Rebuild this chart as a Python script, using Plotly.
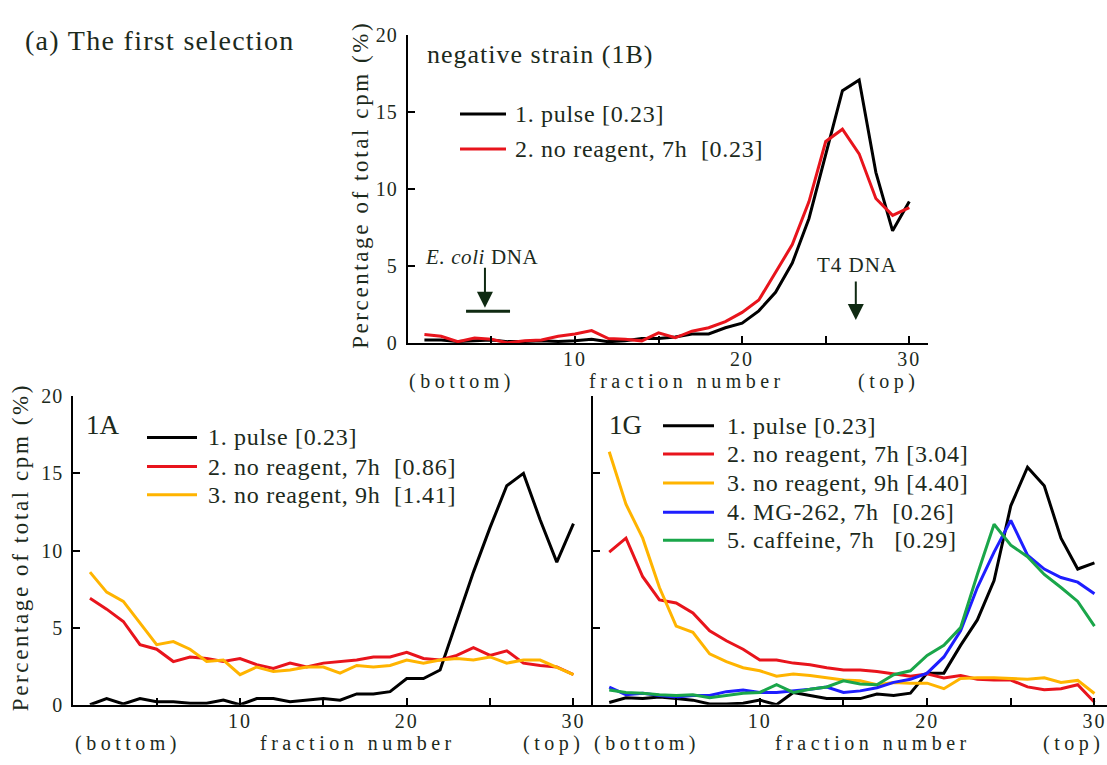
import plotly.graph_objects as go

W, H = 1107, 765
TXT = "#1c2a1c"
ARROW = "#0f2a12"
FONT = "Liberation Serif"

fractions = list(range(1, 31))

# --- negative strain (1B) ---
neg_pulse = [0.2, 0.2, 0.1, 0.15, 0.2, 0.1, 0.1, 0.15, 0.1, 0.15, 0.25, 0.1, 0.15, 0.3, 0.3,
             0.4, 0.6, 0.6, 1.0, 1.3, 2.1, 3.3, 5.2, 8.1, 12.3, 16.4, 17.1, 11.1, 7.3, 9.2]
neg_noreag7 = [0.57, 0.45, 0.1, 0.33, 0.25, 0.02, 0.15, 0.2, 0.45, 0.6, 0.82, 0.3, 0.25, 0.15, 0.67,
               0.35, 0.78, 1.0, 1.4, 2.0, 2.8, 4.6, 6.4, 9.2, 13.1, 13.9, 12.3, 9.4, 8.3, 8.8]
# --- 1A ---
a_pulse = [0.0, 0.4, 0.05, 0.4, 0.2, 0.2, 0.1, 0.1, 0.3, 0.0, 0.4, 0.4, 0.2, 0.3, 0.4,
           0.3, 0.7, 0.7, 0.85, 1.7, 1.7, 2.25, 5.5, 8.6, 11.5, 14.2, 15.0, 12.0, 9.25, 11.75]
a_noreag7 = [6.9, 6.2, 5.4, 3.9, 3.6, 2.8, 3.1, 3.0, 2.8, 3.0, 2.6, 2.35, 2.7, 2.45, 2.7,
             2.8, 2.9, 3.1, 3.1, 3.4, 3.0, 2.9, 3.2, 3.7, 3.2, 3.5, 2.7, 2.55, 2.45, 1.95]
a_noreag9 = [8.6, 7.3, 6.7, 5.3, 3.9, 4.1, 3.6, 2.8, 2.9, 1.95, 2.45, 2.15, 2.25, 2.45, 2.45,
             2.05, 2.55, 2.45, 2.55, 2.9, 2.7, 2.9, 3.0, 2.9, 3.1, 2.7, 2.9, 2.9, 2.45, 1.95]
# --- 1G ---
g_pulse = [0.15, 0.45, 0.4, 0.5, 0.4, 0.3, 0.05, 0.05, 0.1, 0.3, 0.0, 0.8, 0.6, 0.4, 0.4,
           0.4, 0.7, 0.6, 0.75, 2.05, 2.05, 3.85, 5.5, 8.05, 12.9, 15.4, 14.2, 10.8, 8.8, 9.2]
g_noreag7 = [9.9, 10.8, 8.3, 6.8, 6.6, 5.95, 4.8, 4.15, 3.6, 2.9, 2.9, 2.7, 2.6, 2.4, 2.25,
             2.25, 2.15, 2.0, 1.85, 2.0, 1.74, 1.9, 1.65, 1.6, 1.6, 1.16, 0.97, 1.04, 1.3, 0.16]
g_noreag9 = [16.4, 13.0, 10.8, 7.6, 5.1, 4.7, 3.3, 2.8, 2.4, 2.2, 1.85, 2.0, 1.9, 1.75, 1.6,
             1.55, 1.3, 1.45, 1.4, 1.4, 1.04, 1.7, 1.75, 1.75, 1.7, 1.65, 1.75, 1.45, 1.58, 0.73]
g_mg262 = [1.15, 0.65, 0.75, 0.6, 0.5, 0.6, 0.6, 0.85, 0.95, 0.8, 0.8, 0.9, 1.0, 1.15, 0.8,
           0.9, 1.1, 1.45, 1.65, 2.05, 3.1, 4.8, 7.6, 9.9, 11.95, 9.7, 8.8, 8.25, 7.95, 7.2]
g_caffeine = [0.95, 0.8, 0.75, 0.65, 0.6, 0.65, 0.45, 0.6, 0.75, 0.8, 1.3, 0.8, 1.0, 1.15, 1.55,
              1.35, 1.3, 1.95, 2.2, 3.2, 3.85, 5.0, 8.45, 11.7, 10.35, 9.6, 8.45, 7.6, 6.7, 5.1]

neg_labels = ["1. pulse [0.23]", "2. no reagent, 7h\u00a0\u00a0[0.23]"]
a_labels = ["1. pulse [0.23]", "2. no reagent, 7h\u00a0\u00a0[0.86]", "3. no reagent, 9h\u00a0\u00a0[1.41]"]
g_labels = ["1. pulse [0.23]", "2. no reagent, 7h [3.04]", "3. no reagent, 9h [4.40]",
            "4. MG-262, 7h\u00a0\u00a0[0.26]", "5. caffeine, 7h\u00a0\u00a0\u00a0[0.29]"]

BLACK, RED, YEL, BLUE, GREEN = "#000000", "#e8141c", "#ffb400", "#1e1eff", "#1aa64a"

x_tickvals = [5, 10, 15, 20, 25, 30]
x_ticktext = ["", "10", "", "20", "", "30"]
y_tickvals = [0, 5, 10, 15, 20]
y_ticktext = ["0", "5", "10", "15", "20"]

def sp(t, ls):
    if not t:
        return t
    return f'<span style="font-family:{FONT};letter-spacing:{ls}px">{t}</span>'

def px(x):
    return x / W

def py(y):
    return 1 - y / H

fig = go.Figure()

def add_lines(series, colors, xa, ya):
    for s, c in zip(series, colors):
        fig.add_trace(go.Scatter(x=fractions, y=s, mode="lines", xaxis=xa, yaxis=ya,
                                 line=dict(color=c, width=3), showlegend=False,
                                 hoverinfo="skip"))

add_lines([neg_pulse, neg_noreag7], [BLACK, RED], "x", "y")
add_lines([a_pulse, a_noreag7, a_noreag9], [BLACK, RED, YEL], "x2", "y2")
add_lines([g_pulse, g_noreag7, g_noreag9, g_mg262, g_caffeine],
          [BLACK, RED, YEL, BLUE, GREEN], "x3", "y3")

axcommon = dict(showline=True, linecolor="black", linewidth=2, ticks="inside", ticklen=7,
                tickwidth=2, tickcolor="black", showgrid=False, zeroline=False,
                tickfont=dict(family=FONT, size=20, color=TXT), fixedrange=True)

def xax(domain, rng, anchor):
    return dict(axcommon, domain=domain, range=rng, anchor=anchor, tickmode="array",
                tickvals=x_tickvals, ticktext=[sp(t, 2) for t in x_ticktext],
                ticklabelstandoff=-3)

def yax(domain, anchor, labels=True):
    return dict(axcommon, domain=domain, range=[0, 20], anchor=anchor, tickmode="array",
                tickvals=y_tickvals, ticktext=[sp(t, 1) for t in y_ticktext],
                showticklabels=labels, ticklabelstandoff=4)

fig.update_layout(
    width=W, height=H, margin=dict(l=0, r=0, t=0, b=0),
    paper_bgcolor="white", plot_bgcolor="white",
    font=dict(family=FONT, color=TXT),
    xaxis=xax([px(407.7), px(927.7)], [0, 31.1], "y"),
    yaxis=yax([py(342), py(25)], "x"),
    xaxis2=xax([px(73.3), px(591.8)], [0, 31.1], "y2"),
    yaxis2=yax([py(714.3), py(396.7)], "x2"),
    xaxis3=xax([px(592.5), 1.0], [0, 30.75], "y3"),
    yaxis3=yax([py(714.3), py(396.7)], "x3", labels=False),
)

anns = []
shapes = []

def text(t, x, y, size, xanchor="center", angle=0, ls=0):
    anns.append(dict(text=sp(t, ls), x=px(x), y=py(y), xref="paper", yref="paper",
                     xanchor=xanchor, yanchor="middle", showarrow=False, textangle=angle,
                     borderpad=0, font=dict(family=FONT, size=size, color=TXT)))

text("(a) The first selection", 160, 30, 28, ls=1.3)
text("negative strain (1B)", 540, 45, 26, ls=1.0)
text("1A", 103, 426, 27)
text("1G", 625, 426, 27)

ytitle = "Percentage of total cpm (%)"
text(ytitle, 361, 179, 23, angle=-90, ls=2.6)
text(ytitle, 20, 552, 23, angle=-90, ls=2.6)

for cx, cy, (b, f, t) in [((462, 687, 888), 381, ("(bottom)", "fraction number", "(top)")),
                          ((128, 358, 553), 754, ("(bottom)", "fraction number", "(top)")),
                          ((647, 873, 1073), 754, ("(bottom)", "fraction number", "(top)"))]:
    text(b, cx[0], cy, 20, ls=4.5)
    text(f, cx[1], cy, 20, ls=4.5)
    text(t, cx[2], cy, 20, ls=4.5)

def legend(labels, colors, x0, x1, xt, ys):
    for lab, c, y in zip(labels, colors, ys):
        shapes.append(dict(type="line", xref="paper", yref="paper", x0=px(x0), x1=px(x1),
                           y0=py(y), y1=py(y), line=dict(color=c, width=3)))
        text(lab, xt, y, 24, xanchor="left", ls=0.7)

legend(neg_labels, [BLACK, RED], 460, 506, 514, [106, 142])
legend(a_labels, [BLACK, RED, YEL], 147, 197, 207, [439, 469, 498])
legend(g_labels, [BLACK, RED, YEL, BLUE, GREEN], 663, 714, 726, [427, 456, 486, 516, 545])

# markers for E. coli DNA and T4 DNA
text("<i>E. coli</i> DNA", 481, 253, 21, ls=0.6)
text("T4 DNA", 857, 262, 21, ls=1.0)
anns.append(dict(text="", x=4.62, y=2.3, ax=4.62, ay=5.0, xref="x", yref="y", axref="x",
                 ayref="y", showarrow=True, arrowhead=2, arrowsize=1.6, arrowwidth=2,
                 arrowcolor=ARROW))
anns.append(dict(text="", x=26.8, y=1.5, ax=26.8, ay=4.1, xref="x", yref="y", axref="x",
                 ayref="y", showarrow=True, arrowhead=2, arrowsize=1.6, arrowwidth=2,
                 arrowcolor=ARROW))
shapes.append(dict(type="line", xref="x", yref="y", x0=3.49, x1=6.12, y0=2.08, y1=2.08,
                   line=dict(color=ARROW, width=3)))

fig.update_layout(annotations=anns, shapes=shapes)
fig.write_html("out.html")
